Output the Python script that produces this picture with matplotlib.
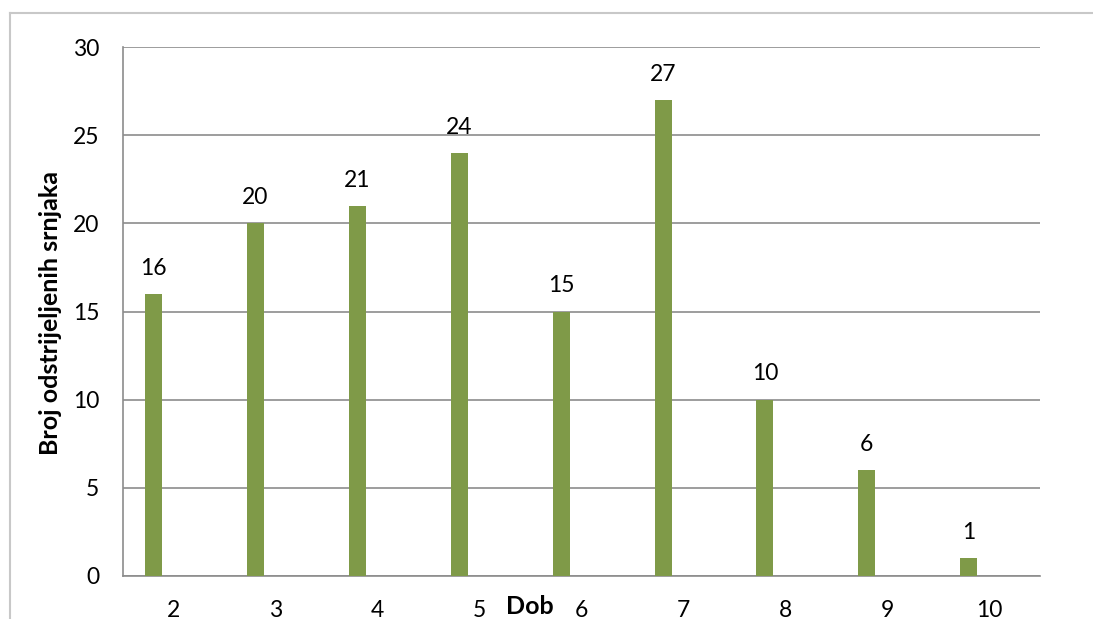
import matplotlib
matplotlib.use("Agg")
import matplotlib.pyplot as plt
from matplotlib.lines import Line2D
import numpy as np

categories = ["2", "3", "4", "5", "6", "7", "8", "9", "10"]
values = [16, 20, 21, 24, 15, 27, 10, 6, 1]
y_ticks = [0, 5, 10, 15, 20, 25, 30]
x_label = "Dob"
y_label = "Broj odstrijeljenih srnjaka"

plt.rcParams['font.family'] = ['Lato', 'DejaVu Sans']

W, H = 1093, 619
fig = plt.figure(figsize=(W / 100, H / 100), dpi=100)
ax = fig.add_axes([123 / W, 1 - 576 / H, (1040 - 123) / W, (576 - 47) / H])

bar_color = "#7F9A48"
grid_color = "#8C8C8C"
x = np.arange(len(categories))
offset = -0.2
ax.bar(x + offset, values, width=0.167, color=bar_color, zorder=3)

for xi, v in zip(x, values):
    ax.annotate(str(v), (xi + offset, v), xytext=(0, 18.5), textcoords="offset points",
                ha="center", va="center", fontsize=16.5, color="black")

ax.set_xlim(-0.5, len(categories) - 0.5)
ax.set_ylim(0, 30)
ax.set_yticks(y_ticks)
ax.set_yticklabels([str(t) for t in y_ticks], fontsize=16.5)
ax.set_xticks(x)
ax.set_xticklabels(categories, fontsize=16.5)
ax.tick_params(axis="y", length=0, pad=17)
ax.tick_params(axis="x", length=0, pad=17)
ax.grid(axis="y", color=grid_color, linewidth=1.2, zorder=0)
ax.set_axisbelow(True)
for s in ["top", "right"]:
    ax.spines[s].set_visible(False)
for s in ["left", "bottom"]:
    ax.spines[s].set_color(grid_color)
    ax.spines[s].set_linewidth(1.2)

fig.text(50 / W, 1 - 313 / H, y_label, rotation=90, ha="center", va="center",
         fontsize=18, fontweight="bold")
fig.text(530 / W, 1 - 606 / H, x_label, ha="center", va="center",
         fontsize=18, fontweight="bold")

# outer chart border (partially visible)
border_color = "#C8C8C8"
fig.add_artist(Line2D([10 / W, 1.0], [1 - 12.7 / H, 1 - 12.7 / H], color=border_color,
                      linewidth=1.5, transform=fig.transFigure))
fig.add_artist(Line2D([10 / W, 10 / W], [0, 1 - 12.7 / H], color=border_color,
                      linewidth=1.5, transform=fig.transFigure))

fig.savefig("out.png", dpi=100)
